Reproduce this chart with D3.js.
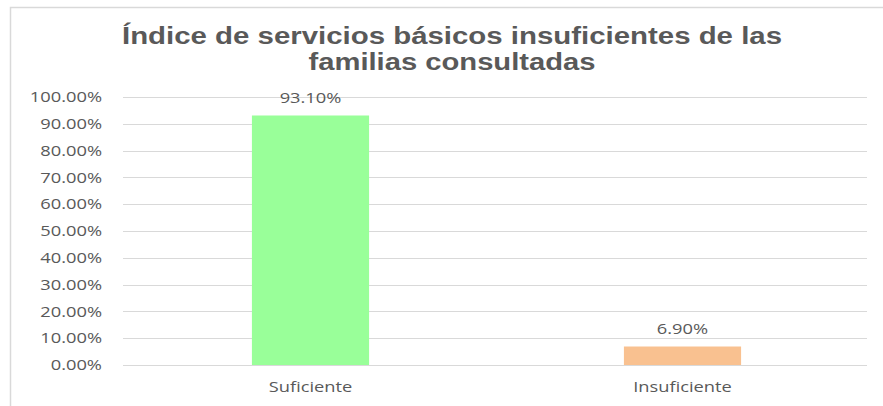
<!DOCTYPE html>
<html>
<head>
<meta charset="utf-8">
<script src="https://cdn.jsdelivr.net/npm/d3@7"></script>
<style>
  body { margin: 0; background: #fff; }
  svg text { fill: #595959; }
</style>
</head>
<body>
<div id="chart"></div>
<script>
// Índice de servicios básicos insuficientes
const categories = ["Suficiente", "Insuficiente"];
const values = [0.931, 0.069];
const barColors = ["#99FF99", "#F9C190"];
const yTicks = [0, 0.1, 0.2, 0.3, 0.4, 0.5, 0.6, 0.7, 0.8, 0.9, 1.0];
const titleLines = ["Índice de servicios básicos insuficientes de las", "familias consultadas"];

const width = 883, height = 406;
const margin = { top: 97, right: 16, bottom: 41, left: 123 };
const innerW = width - margin.left - margin.right;
const innerH = height - margin.top - margin.bottom;
const sx = 1.22; // horizontal stretch of the small labels

const svg = d3.select("#chart").append("svg")
  .attr("width", width)
  .attr("height", height);

// chart frame
svg.append("rect")
  .attr("x", 10.5).attr("y", 7.5)
  .attr("width", width + 10).attr("height", height + 10)
  .attr("fill", "none")
  .attr("stroke", "#d9d9d9")
  .attr("stroke-width", 1.5);

// title
const titleW = [660, 287];
svg.selectAll("text.title")
  .data(titleLines)
  .join("text")
  .attr("class", "title")
  .attr("x", (d, i) => 452 - titleW[i] / 2)
  .attr("y", (d, i) => 44 + i * 26)
  .attr("textLength", (d, i) => titleW[i])
  .attr("lengthAdjust", "spacingAndGlyphs")
  .style("font-family", "'Liberation Sans', Arial, sans-serif")
  .style("font-weight", "bold")
  .style("font-size", "23px")
  .text(d => d);

const g = svg.append("g").attr("transform", `translate(${margin.left},${margin.top})`);

const x = d3.scaleBand().domain(categories).range([0, innerW]).padding(0);
const y = d3.scaleLinear().domain([0, 1]).range([innerH, 0]);
const barW = x.bandwidth() * 0.315;

// gridlines
g.selectAll("line.grid")
  .data(yTicks)
  .join("line")
  .attr("class", "grid")
  .attr("x1", 0).attr("x2", innerW)
  .attr("y1", d => Math.round(y(d)) + 0.5)
  .attr("y2", d => Math.round(y(d)) + 0.5)
  .attr("stroke", "#d9d9d9")
  .attr("stroke-width", 1);

const fmt = d3.format(".2%");
const labelFont = "'Open Sans', sans-serif";

// y axis labels
g.selectAll("text.ytick")
  .data(yTicks)
  .join("text")
  .attr("class", "ytick")
  .attr("transform", d => `translate(-21,${y(d)}) scale(${sx},1)`)
  .attr("text-anchor", "end")
  .attr("dy", "0.35em")
  .style("font-family", labelFont)
  .style("font-size", "15px")
  .text(d => fmt(d));

// bars
g.selectAll("rect.bar")
  .data(categories)
  .join("rect")
  .attr("class", "bar")
  .attr("x", d => x(d) + x.bandwidth() / 2 - barW / 2 + 1.5)
  .attr("y", (d, i) => y(values[i]))
  .attr("width", barW)
  .attr("height", (d, i) => innerH - y(values[i]))
  .attr("fill", (d, i) => barColors[i]);

// data labels
g.selectAll("text.val")
  .data(categories)
  .join("text")
  .attr("class", "val")
  .attr("transform", (d, i) => `translate(${x(d) + x.bandwidth() / 2 + 1.5},${y(values[i]) - 18}) scale(${sx},1)`)
  .attr("text-anchor", "middle")
  .attr("dy", "0.35em")
  .style("font-family", labelFont)
  .style("font-size", "15px")
  .text((d, i) => fmt(values[i]));

// category labels
g.selectAll("text.cat")
  .data(categories)
  .join("text")
  .attr("class", "cat")
  .attr("transform", d => `translate(${x(d) + x.bandwidth() / 2 + 1.5},${innerH + 22}) scale(${sx},1)`)
  .attr("text-anchor", "middle")
  .attr("dy", "0.35em")
  .style("font-family", labelFont)
  .style("font-size", "15px")
  .text(d => d);
</script>
</body>
</html>
